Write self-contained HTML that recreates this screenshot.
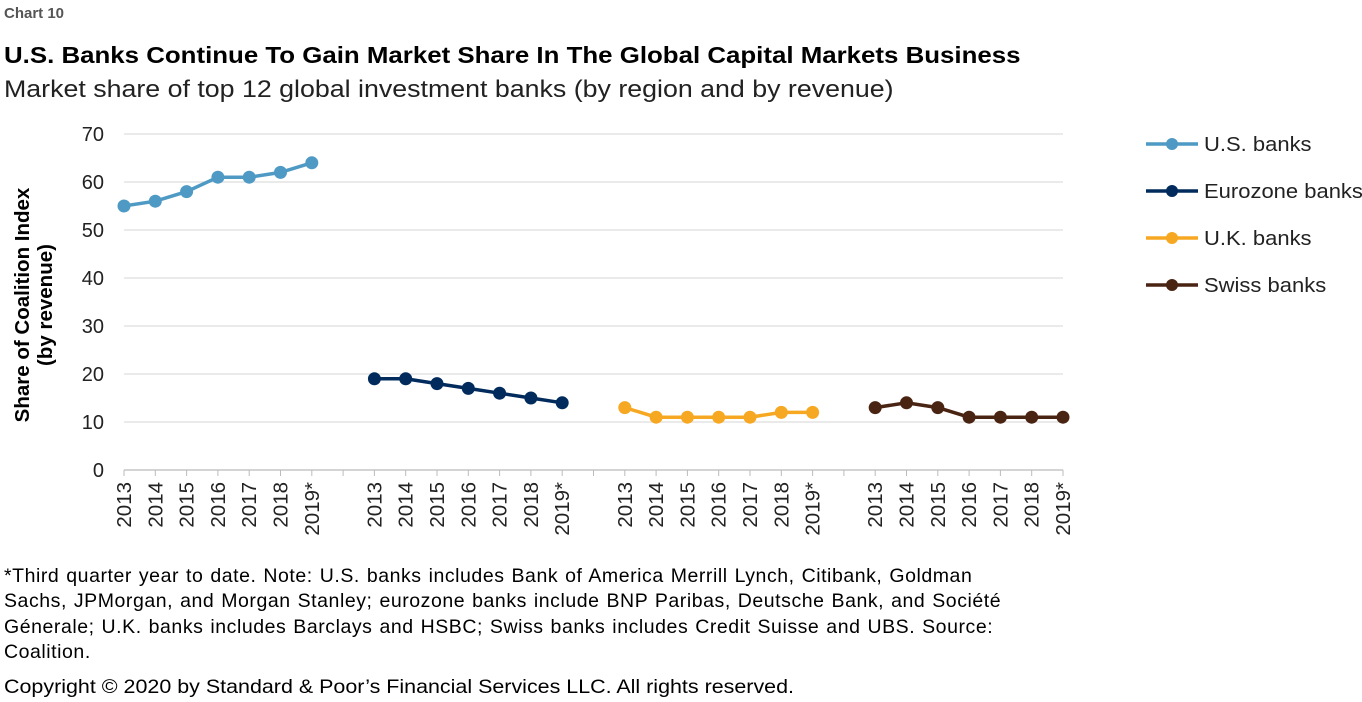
<!DOCTYPE html>
<html><head><meta charset="utf-8"><style>
body{margin:0;background:#fff;width:1362px;height:702px;overflow:hidden;font-family:"Liberation Sans",sans-serif;color:#000}
.t{position:absolute;white-space:nowrap;transform-origin:0 0}
</style></head><body>
<div class="t" style="left:4px;top:5px;font-size:15px;font-weight:bold;color:#555">Chart 10</div>
<div class="t" style="left:4px;top:42px;font-size:23.5px;font-weight:bold;transform:scaleX(1.1)">U.S. Banks Continue To Gain Market Share In The Global Capital Markets Business</div>
<div class="t" style="left:4px;top:76px;font-size:24px;color:#222;transform:scaleX(1.115)">Market share of top 12 global investment banks (by region and by revenue)</div>
<div class="t" style="left:4px;top:564px;font-size:19.5px;line-height:25.3px;white-space:normal;width:1010px;letter-spacing:0.55px;word-spacing:1px">*Third quarter year to date. Note: U.S. banks includes Bank of America Merrill Lynch, Citibank, Goldman Sachs, JPMorgan, and Morgan Stanley; eurozone banks include BNP Paribas, Deutsche Bank, and Société Génerale; U.K. banks includes Barclays and HSBC; Swiss banks includes Credit Suisse and UBS. Source: Coalition.</div>
<div class="t" style="left:4px;top:676px;font-size:19.5px;transform:scaleX(1.1)">Copyright © 2020 by Standard &amp; Poor’s Financial Services LLC. All rights reserved.</div>
<svg id="c" width="1362" height="702" style="position:absolute;left:0;top:0" font-family="Liberation Sans, sans-serif"></svg>
<script>
const years=["2013","2014","2015","2016","2017","2018","2019*"];
const seriesNames=["U.S. banks","Eurozone banks","U.K. banks","Swiss banks"];
const usValues=[55,56,58,61,61,62,64];
const euroValues=[19,19,18,17,16,15,14];
const ukValues=[13,11,11,11,11,12,12];
const swissValues=[13,14,13,11,11,11,11];
const yTicks=[0,10,20,30,40,50,60,70];
const colors=["#4f9ac4","#002b5c","#f7a823","#4a2412"];
const all=[usValues,euroValues,ukValues,swissValues];
const svg=document.getElementById('c');const NS="http://www.w3.org/2000/svg";
function mk(t,a,p){const e=document.createElementNS(NS,t);for(const k in a)e.setAttribute(k,a[k]);(p||svg).appendChild(e);return e;}
const x0=124,x1=1063,yb=470,yt=134,nSlots=all.length*years.length+all.length-1;
const xs=i=>x0+i*(x1-x0)/(nSlots-1);
const ys=v=>yb-(v-0)/(70-0)*(yb-yt);
yTicks.forEach(v=>{
 const g=mk('line',{x1:x0,x2:x1,y1:ys(v),y2:ys(v),stroke:v===0?'#bbb':'#ddd','stroke-width':1.3});
 
 const t=mk('text',{x:104,y:ys(v)+7,'text-anchor':'end','font-size':20,fill:'#222'});t.textContent=v;
 
});
for(let i=0;i<nSlots;i++){const tk=mk('line',{x1:xs(i),x2:xs(i),y1:yb,y2:yb+6,stroke:'#bbb'});
 }
const yl=mk('text',{transform:'translate(29,305) rotate(-90)','text-anchor':'middle','font-size':20.5,'font-weight':'bold'});

yl.innerHTML='<tspan x="0" dy="0">Share of Coalition Index</tspan><tspan x="0" dy="23">(by revenue)</tspan>';
all.forEach((vals,s)=>{
 const off=s*(years.length+1);
 const pts=vals.map((v,i)=>xs(off+i)+','+ys(v)).join(' ');
 const pl=mk('polyline',{points:pts,fill:'none',stroke:colors[s],'stroke-width':3.5});
 
 vals.forEach((v,i)=>{const c=mk('circle',{cx:xs(off+i),cy:ys(v),r:6.5,fill:colors[s]});
  });
 years.forEach((y,i)=>{const t=mk('text',{transform:`translate(${xs(off+i)+7},${yb+12}) rotate(-90)`,'text-anchor':'end','font-size':20.5,fill:'#222'});t.textContent=y;
  });
 const ly=144+s*47;
 const ll=mk('line',{x1:1146,x2:1198,y1:ly,y2:ly,stroke:colors[s],'stroke-width':3.5});
 
 const lc=mk('circle',{cx:1172,cy:ly,r:6,fill:colors[s]});
 
 const lt=mk('text',{x:1204,y:ly+7,'font-size':20,fill:'#222','textLength':null});lt.textContent=seriesNames[s];
 lt.removeAttribute('textLength');
 lt.setAttribute('transform',`translate(${1204*(1-1.1)},0) scale(1.1,1)`);
 
});
</script>
</body></html>
